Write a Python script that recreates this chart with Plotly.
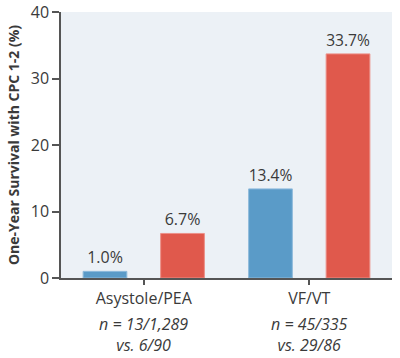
import plotly.graph_objects as go

categories = ["Asystole/PEA", "VF/VT"]
series_a = [1.0, 13.4]
series_b = [6.7, 33.7]
n_labels = ["n = 13/1,289<br>vs. 6/90", "n = 45/335<br>vs. 29/86"]
y_ticks = [0, 10, 20, 30, 40]

FONT = "Open Sans"
TXT = "#3a3a3a"

fig = go.Figure()
fig.add_trace(go.Bar(
    x=categories, y=series_a, name="A",
    marker=dict(color="#5a9bc8", line=dict(color="#8fbbdc", width=1)),
    text=[f"{v:.1f}%" for v in series_a], textposition="outside",
    textfont=dict(family=FONT, size=16, color=TXT), cliponaxis=False,
))
fig.add_trace(go.Bar(
    x=categories, y=series_b, name="B",
    marker=dict(color="#e0594c", line=dict(color="#ec9088", width=1)),
    text=[f"{v:.1f}%" for v in series_b], textposition="outside",
    textfont=dict(family=FONT, size=16, color=TXT), cliponaxis=False,
))

for cat, lab in zip(categories, n_labels):
    fig.add_annotation(x=cat, y=0, xref="x", yref="paper", yanchor="top",
                       yshift=-33, text=f"<i>{lab}</i>", showarrow=False,
                       font=dict(family=FONT, size=16, color=TXT))

fig.update_layout(
    width=400, height=358,
    margin=dict(l=61, r=8, t=12, b=80),
    paper_bgcolor="white", plot_bgcolor="#ecf1f6",
    barmode="group", bargap=0.063, bargroupgap=0.436,
    showlegend=False,
    font=dict(family=FONT, size=16, color=TXT),
    xaxis=dict(range=[-0.5, 1.5], showline=True, linecolor="#555", linewidth=1.5,
               ticks="outside", ticklen=5, tickcolor="#555", tickwidth=1.5,
               showgrid=False, automargin=False,
               tickfont=dict(family=FONT, size=16, color=TXT)),
    yaxis=dict(range=[0, 40], tickvals=y_ticks, showline=True, linecolor="#555",
               linewidth=1.5, ticks="outside", ticklen=7, tickcolor="#555",
               tickwidth=1.5, showgrid=False, zeroline=False, automargin=False,
               ticklabeloverflow="allow",
               tickfont=dict(family=FONT, size=16, color=TXT),
               title=dict(text="<b>One-Year Survival with CPC 1-2 (%)</b>",
                          font=dict(family=FONT, size=14, color=TXT), standoff=8)),
)

# remove the page's default 8px body margin so the figure fills the window
fig.write_html("out.html", config={"displayModeBar": False},
               post_script="document.body.style.margin='0';document.body.style.overflow='hidden';")
